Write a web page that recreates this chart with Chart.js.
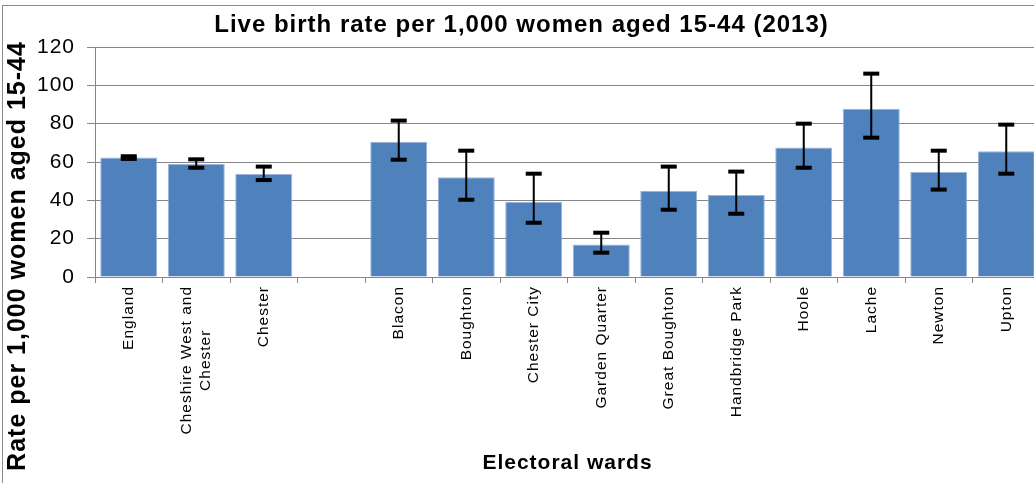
<!DOCTYPE html>
<html><head><meta charset="utf-8">
<script src="https://cdn.jsdelivr.net/npm/chart.js@4"></script>
<style>
html,body{margin:0;padding:0;background:#fff;overflow:hidden;width:1034px;height:483px;}
#frame{position:absolute;left:2px;top:5px;border-top:1px solid #8c8c8c;border-left:1px solid #8c8c8c;}
canvas{display:block;}
</style></head><body>
<div id="frame"><canvas id="c" width="1037" height="500" style="width:1037px;height:500px"></canvas></div>
<script>
const titleText = 'Live birth rate per 1,000 women aged 15-44 (2013)';
const yTitle = 'Rate per 1,000 women aged 15-44';
const xTitle = 'Electoral wards';
const categories = ['England', ['Cheshire West and', 'Chester'], 'Chester', '', 'Blacon', 'Boughton', 'Chester City',
  'Garden Quarter', 'Great Boughton', 'Handbridge Park', 'Hoole', 'Lache', 'Newton', 'Upton'];
const rates   = [62.3, 59.0, 53.7, null, 70.6, 52.0, 39.3, 16.9, 45.0, 42.8, 67.6, 87.8, 54.8, 65.6];
const lowerCI = [61.6, 57.0, 50.6, null, 61.2, 40.3, 28.3, 12.7, 35.1, 33.0, 57.0, 72.7, 45.6, 53.9];
const upperCI = [63.0, 61.4, 57.6, null, 81.6, 65.9, 53.9, 23.1, 57.6, 55.0, 80.0, 106.1, 65.9, 79.5];
const yMin = 0, yMax = 120, yStep = 20;

const FONT = "'Liberation Sans', Arial, sans-serif";
const GRID = '#868686';
const LS = '1px';
const XTICK_SIZE = 15.5;

const spacing = {
  id: 'spacing',
  beforeUpdate(chart) { chart.ctx.letterSpacing = LS; },
  beforeDraw(chart) {
    const ctx = chart.ctx;
    ctx.letterSpacing = LS;
    // centre multi-line rotated category labels on their tick, lines centred on each other
    const xs = chart.scales.x;
    const items = xs.getLabelItems();
    const lh = XTICK_SIZE * 1.2;
    ctx.save();
    ctx.font = `${XTICK_SIZE}px ${FONT}`;
    items.forEach(it => {
      if (Array.isArray(it.label) && it.label.length > 1) {
        const w = Math.max(...it.label.map(l => ctx.measureText(l).width));
        it.textOffset -= lh * (it.label.length - 1) / 2;
        it.options.textAlign = 'center';
        it.options.translation[1] += w / 2;
      }
    });
    ctx.restore();
  }
};

const errorBars = {
  id: 'errorBars',
  afterDatasetsDraw(chart) {
    const ctx = chart.ctx;
    const meta = chart.getDatasetMeta(0);
    const ys = chart.scales.y;
    ctx.save();
    ctx.fillStyle = '#000';
    meta.data.forEach((bar, i) => {
      if (rates[i] == null) return;
      const x = bar.x;
      const yl = ys.getPixelForValue(lowerCI[i]);
      const yu = ys.getPixelForValue(upperCI[i]);
      ctx.fillRect(x - 1, yu, 2, yl - yu);
      ctx.fillRect(x - 8, yu - 2, 16, 4);
      ctx.fillRect(x - 8, yl - 2, 16, 4);
    });
    ctx.restore();
  }
};

new Chart(document.getElementById('c'), {
  type: 'bar',
  data: {
    labels: categories,
    datasets: [{
      data: rates,
      backgroundColor: '#4F81BD',
      borderColor: '#9DB6DB',
      borderWidth: 1,
      barPercentage: 0.845,
      categoryPercentage: 1
    }]
  },
  options: {
    responsive: false,
    animation: false,
    layout: { padding: 0 },
    plugins: {
      legend: { display: false },
      tooltip: { enabled: false },
      title: {
        display: true, text: titleText, color: '#000',
        font: { family: FONT, size: 24, weight: 'bold' },
        padding: { top: 5, bottom: 7.2 }
      },
      subtitle: {
        display: true, position: 'left', text: yTitle, color: '#000',
        font: { family: FONT, size: 25, weight: 'bold' },
        padding: { top: 0.5, bottom: 0 }
      }
    },
    scales: {
      x: {
        afterFit(s) { s.height = 229; },
        grid: { display: true, drawOnChartArea: false, offset: true, tickLength: 6, color: GRID },
        border: { display: true, color: GRID },
        ticks: { minRotation: 90, maxRotation: 90, autoSkip: false, padding: 3, color: '#000',
                 font: { family: FONT, size: XTICK_SIZE } },
        title: { display: true, text: xTitle, color: '#000',
                 font: { family: FONT, size: 21, weight: 'bold' }, padding: { top: 0, bottom: 30 } }
      },
      y: {
        min: yMin, max: yMax,
        afterFit(s) { s.width = 61.5; },
        grid: { color: GRID, tickLength: 8 },
        border: { display: true, color: GRID },
        ticks: { stepSize: yStep, padding: 12, color: '#000', font: { family: FONT, size: 21 } }
      }
    }
  },
  plugins: [spacing, errorBars]
});
</script>
</body></html>
